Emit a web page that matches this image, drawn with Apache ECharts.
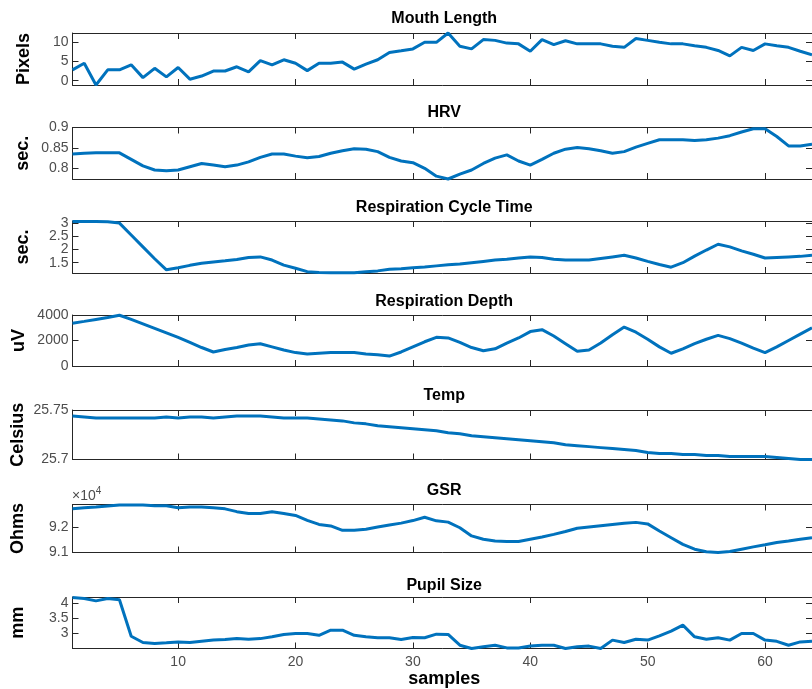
<!DOCTYPE html>
<html>
<head>
<meta charset="utf-8">
<script src="https://cdn.jsdelivr.net/npm/echarts@6/dist/echarts.min.js"></script>
<style>
html,body{margin:0;padding:0;background:#fff;}
#chart{width:812px;height:689px;}
</style>
</head>
<body>
<div id="chart"></div>
<script>
// ---- data ----
const titles = ['Mouth Length', 'HRV', 'Respiration Cycle Time', 'Respiration Depth', 'Temp', 'GSR', 'Pupil Size'];
const yLabels = ['Pixels', 'sec.', 'sec.', 'uV', 'Celsius', 'Ohms', 'mm'];
const xTicks = [10, 20, 30, 40, 50, 60];

const mouthLength = [2.8, 4.5, -1.1, 2.8, 2.8, 4.1, 0.8, 3.2, 1.0, 3.4, 0.4, 1.2, 2.5, 2.5, 3.6, 2.3, 5.2, 4.1, 5.4, 4.5,
  2.6, 4.5, 4.5, 4.8, 3.0, 4.3, 5.4, 7.3, 7.7, 8.2, 9.9, 9.9, 12.3, 8.9, 8.2, 10.6, 10.4, 9.7, 9.5, 7.6,
  10.6, 9.3, 10.3, 9.5, 9.5, 9.5, 8.9, 8.6, 10.9, 10.4, 9.9, 9.5, 9.5, 9.0, 8.6, 7.8, 6.4, 8.6, 7.8, 9.5,
  9.0, 8.6, 7.6, 6.7];
const hrv = [0.835, 0.837, 0.838, 0.838, 0.838, 0.822, 0.806, 0.796, 0.794, 0.796, 0.804, 0.812, 0.808, 0.804, 0.808, 0.816, 0.827, 0.835, 0.835, 0.830,
  0.826, 0.829, 0.837, 0.843, 0.848, 0.847, 0.841, 0.827, 0.818, 0.814, 0.800, 0.781, 0.774, 0.786, 0.796, 0.812, 0.825, 0.833, 0.818, 0.808,
  0.822, 0.837, 0.847, 0.851, 0.848, 0.843, 0.837, 0.841, 0.852, 0.861, 0.870, 0.870, 0.870, 0.868, 0.870, 0.874, 0.880, 0.889, 0.897, 0.897,
  0.878, 0.855, 0.855, 0.859];
const respCycle = [3.06, 3.06, 3.06, 3.05, 3.0, 2.55, 2.1, 1.65, 1.23, 1.31, 1.40, 1.48, 1.53, 1.57, 1.62, 1.70, 1.72, 1.60, 1.41, 1.29,
  1.16, 1.13, 1.12, 1.12, 1.12, 1.16, 1.19, 1.25, 1.27, 1.31, 1.34, 1.38, 1.42, 1.45, 1.50, 1.55, 1.60, 1.63, 1.68, 1.72,
  1.70, 1.63, 1.60, 1.60, 1.60, 1.66, 1.72, 1.78, 1.68, 1.55, 1.43, 1.33, 1.50, 1.75, 1.98, 2.20, 2.10, 1.95, 1.82, 1.68,
  1.70, 1.72, 1.74, 1.78];
const respDepth = [3360, 3500, 3650, 3800, 3980, 3650, 3300, 2950, 2600, 2250, 1850, 1450, 1100, 1300, 1450, 1650, 1750, 1500, 1250, 1050,
  950, 1000, 1050, 1050, 1050, 950, 880, 780, 1100, 1500, 1900, 2250, 2200, 1850, 1450, 1200, 1350, 1800, 2200, 2700,
  2850, 2350, 1750, 1150, 1250, 1800, 2450, 3050, 2650, 2100, 1500, 1000, 1350, 1750, 2100, 2400, 2150, 1800, 1400, 1050,
  1500, 2000, 2500, 3000];
const temp = [25.744, 25.743, 25.742, 25.742, 25.742, 25.742, 25.742, 25.742, 25.743, 25.742, 25.743, 25.743, 25.742, 25.743, 25.744, 25.744, 25.744, 25.743, 25.742, 25.742,
  25.742, 25.741, 25.740, 25.739, 25.737, 25.736, 25.734, 25.733, 25.732, 25.731, 25.730, 25.729, 25.727, 25.726, 25.724, 25.723, 25.722, 25.721, 25.720, 25.719,
  25.718, 25.717, 25.715, 25.714, 25.713, 25.712, 25.711, 25.710, 25.709, 25.707, 25.706, 25.706, 25.705, 25.705, 25.704, 25.704, 25.703, 25.703, 25.703, 25.703,
  25.702, 25.701, 25.700, 25.700];
const gsr = [92710, 92750, 92780, 92820, 92860, 92860, 92860, 92830, 92830, 92750, 92780, 92780, 92750, 92710, 92600, 92530, 92530, 92600, 92530, 92450,
  92260, 92100, 92040, 91870, 91870, 91910, 92000, 92080, 92150, 92250, 92380, 92240, 92190, 91970, 91650, 91520, 91450, 91430, 91430, 91520,
  91610, 91710, 91820, 91950, 92000, 92050, 92100, 92150, 92180, 92120, 91840, 91580, 91320, 91130, 91030, 91000, 91040, 91130, 91220, 91300,
  91390, 91450, 91520, 91580];
const pupil = [4.20, 4.17, 4.09, 4.17, 4.13, 2.91, 2.70, 2.67, 2.69, 2.72, 2.70, 2.74, 2.78, 2.80, 2.83, 2.81, 2.83, 2.89, 2.97, 3.00,
  3.00, 2.94, 3.11, 3.11, 2.94, 2.89, 2.86, 2.86, 2.80, 2.87, 2.86, 2.98, 2.97, 2.61, 2.50, 2.56, 2.61, 2.52, 2.52, 2.58,
  2.61, 2.61, 2.50, 2.56, 2.58, 2.50, 2.78, 2.70, 2.81, 2.78, 2.92, 3.08, 3.28, 2.89, 2.81, 2.86, 2.78, 3.00, 3.00, 2.78,
  2.74, 2.61, 2.72, 2.74];

const seriesList = [mouthLength, hrv, respCycle, respDepth, temp, gsr, pupil];
const yMins = [-1.1, 0.774, 1.11, 0, 25.7, 91000, 2.5];
const yMaxs = [12.3, 0.9, 3.08, 4000, 25.75, 92880, 4.22];
const yTicks = [[0, 5, 10], [0.8, 0.85, 0.9], [1.5, 2, 2.5, 3], [0, 2000, 4000], [25.7, 25.75], [91000, 92000], [3, 3.5, 4]];

// ---- layout ----
const boxTops = [33, 127.5, 221, 315, 410, 504.5, 597];
const boxHeights = [52, 51.5, 52, 51, 49.5, 48, 51.5];
const titleYs = [19, 113, 208, 302, 396, 491, 586];
const yLabelXs = [24, 23, 23, 19, 18, 18, 18];
const plotLeft = 72.5;
const plotWidth = 743.4;
const axisColor = '#262626';
const tickColor = '#4d4d4d';
const FONT = "'Liberation Sans', Arial, Helvetica, sans-serif";

const grid = [], xAxis = [], yAxis = [], series = [], graphic = [];
const n = seriesList.length;
for (let i = 0; i < n; i++) {
  grid.push({left: plotLeft, top: boxTops[i], width: plotWidth, height: boxHeights[i], containLabel: false});
  const last = i === n - 1;
  const lineStyle = {color: axisColor, width: 1};
  xAxis.push({
    type: 'value', gridIndex: i, min: 1, max: 64, position: 'bottom',
    axisLine: {show: true, onZero: false, lineStyle},
    axisTick: {show: true, inside: true, length: 6, customValues: xTicks, lineStyle},
    axisLabel: {show: last, customValues: xTicks, color: tickColor, fontSize: 14, fontFamily: FONT, margin: 7, hideOverlap: false},
    splitLine: {show: false}
  });
  xAxis.push({
    type: 'value', gridIndex: i, min: 1, max: 64, position: 'top',
    axisLine: {show: true, onZero: false, lineStyle},
    axisTick: {show: true, inside: true, length: 6, customValues: xTicks, lineStyle},
    axisLabel: {show: false},
    splitLine: {show: false}
  });
  const fmt = (v) => {
    if (i === 5) return String(Math.round(v / 100) / 100);
    return String(+v.toFixed(3));
  };
  const ticks = yTicks[i];
  const crowded = ticks.length > 3;
  const labelsA = crowded ? ticks.filter((_, k) => k % 2 === 0) : ticks;
  const labelsB = crowded ? ticks.filter((_, k) => k % 2 === 1) : [];
  const labelStyle = {show: true, color: tickColor, fontSize: 14, fontFamily: FONT, margin: 4,
    formatter: fmt, hideOverlap: false, showMinLabel: true, showMaxLabel: true};
  const firstY = yAxis.length;
  yAxis.push({
    type: 'value', gridIndex: i, min: yMins[i], max: yMaxs[i], position: 'left',
    axisLine: {show: true, onZero: false, lineStyle},
    axisTick: {show: true, inside: true, length: 6, customValues: ticks, lineStyle},
    axisLabel: Object.assign({customValues: labelsA}, labelStyle),
    splitLine: {show: false}
  });
  yAxis.push({
    type: 'value', gridIndex: i, min: yMins[i], max: yMaxs[i], position: 'right',
    axisLine: {show: true, onZero: false, lineStyle},
    axisTick: {show: true, inside: true, length: 6, customValues: ticks, lineStyle},
    axisLabel: {show: false},
    splitLine: {show: false}
  });
  if (crowded) {
    yAxis.push({
      type: 'value', gridIndex: i, min: yMins[i], max: yMaxs[i], position: 'left', offset: 0,
      axisLine: {show: false, onZero: false},
      axisTick: {show: false},
      axisLabel: Object.assign({customValues: labelsB}, labelStyle),
      splitLine: {show: false}
    });
  }
  series.push({
    type: 'line', xAxisIndex: 2 * i, yAxisIndex: firstY,
    data: seriesList[i].map((v, k) => [k + 1, v]),
    showSymbol: false, symbol: 'none', clip: false, animation: false,
    lineStyle: {color: '#0072BD', width: 3},
    z: 3
  });
  graphic.push({
    type: 'text', x: plotLeft + plotWidth / 2, y: titleYs[i],
    style: {text: titles[i], font: "bold 16px " + FONT, fill: '#000', textAlign: 'center', textVerticalAlign: 'middle'}
  });
  graphic.push({
    type: 'text', x: yLabelXs[i], y: boxTops[i] + boxHeights[i] / 2, rotation: Math.PI / 2,
    style: {text: yLabels[i], font: "bold 18px " + FONT, fill: '#000', textAlign: 'center', textVerticalAlign: 'middle'}
  });
}
graphic.push({
  type: 'text', x: plotLeft + plotWidth / 2, y: 679,
  style: {text: 'samples', font: "bold 18px " + FONT, fill: '#000', textAlign: 'center', textVerticalAlign: 'middle'}
});
graphic.push({
  type: 'text', x: 72, y: 495,
  style: {
    text: '{a|×10}{b|4}',
    rich: {
      a: {fontSize: 14, fontFamily: FONT, fill: tickColor, color: tickColor, verticalAlign: 'bottom'},
      b: {fontSize: 10, fontFamily: FONT, fill: tickColor, color: tickColor, verticalAlign: 'top', padding: [0, 0, 7, 0]}
    },
    textAlign: 'left', textVerticalAlign: 'middle'
  }
});

const chart = echarts.init(document.getElementById('chart'), null, {renderer: 'canvas'});
chart.setOption({animation: false, backgroundColor: '#fff', grid, xAxis, yAxis, series, graphic});
</script>
</body>
</html>
